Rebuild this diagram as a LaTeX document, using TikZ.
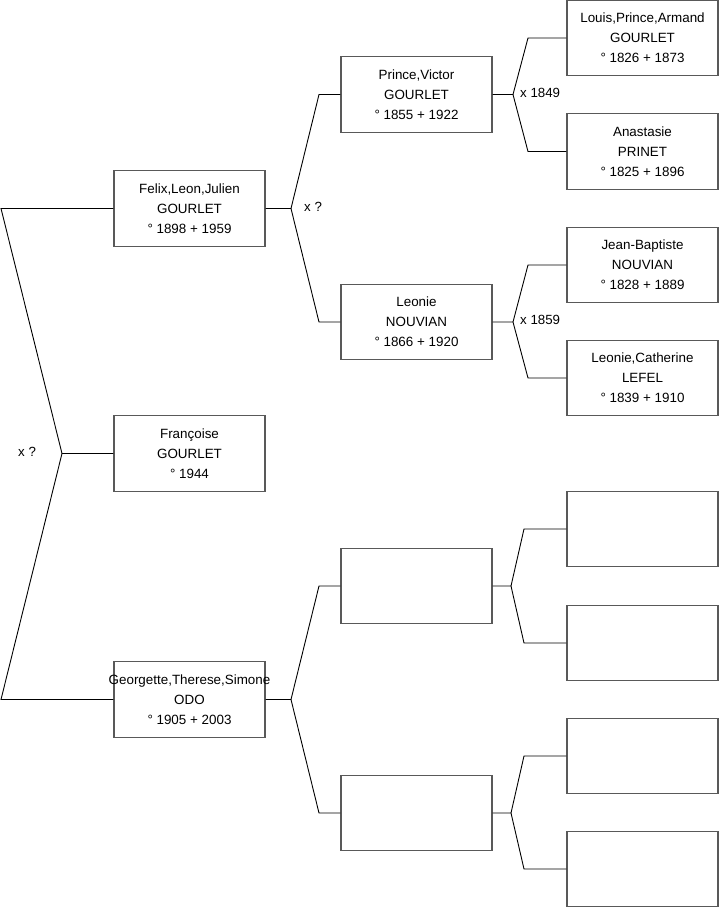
\documentclass[tikz,border=0pt]{standalone}
\usepackage{fontspec}
\setmainfont{Liberation Sans}
\begin{document}
\begin{tikzpicture}[x=1pt,y=-1pt,
  person/.style={draw=black!65, line width=1.2pt, fill=white, minimum width=151pt, minimum height=75.5pt, inner sep=0pt, align=center, font=\fontsize{13.4}{20}\selectfont},
  link/.style={draw=black, line width=0.9pt},
  mlabel/.style={anchor=west, inner sep=0pt, font=\fontsize{13.3}{16}\selectfont}]
\useasboundingbox (0,0) rectangle (719,908);
% generation 1
\node[person] (felix) at (189.5,208.5) {Felix,Leon,Julien\\GOURLET\\° 1898 + 1959};
\node[person] (francoise) at (189.5,453.5) {Françoise\\GOURLET\\° 1944};
\node[person] (georgette) at (189.5,699.5) {\makebox[0pt][c]{Georgette,Therese,Simone}\\ODO\\° 1905 + 2003};
% generation 2
\node[person] (victor) at (416.5,94.5) {Prince,Victor\\GOURLET\\° 1855 + 1922};
\node[person] (leonie) at (416.5,322) {Leonie\\NOUVIAN\\° 1866 + 1920};
\node[person] (emptyA) at (416.5,586) {};
\node[person] (emptyB) at (416.5,813) {};
% generation 3
\node[person] (louis) at (642.5,38) {Louis,Prince,Armand\\GOURLET\\° 1826 + 1873};
\node[person] (anastasie) at (642.5,151.5) {Anastasie\\PRINET\\° 1825 + 1896};
\node[person] (jeanbaptiste) at (642.5,265) {Jean-Baptiste\\NOUVIAN\\° 1828 + 1889};
\node[person] (leoniecath) at (642.5,378) {Leonie,Catherine\\LEFEL\\° 1839 + 1910};
\node[person] (emptyC) at (642.5,529) {};
\node[person] (emptyD) at (642.5,643) {};
\node[person] (emptyE) at (642.5,756) {};
\node[person] (emptyF) at (642.5,869) {};
% connector points
\coordinate (rA) at (1,208.5);
\coordinate (rApex) at (62,453.5);
\coordinate (rB) at (1,699.5);
\coordinate (fApex) at (291,208.5);
\coordinate (fA) at (319,94.5);
\coordinate (fB) at (319,322);
\coordinate (gApex) at (291,699.5);
\coordinate (gA) at (319,586);
\coordinate (gB) at (319,813);
\coordinate (vApex) at (513,94.5);
\coordinate (vA) at (528,38);
\coordinate (vB) at (528,151.5);
\coordinate (lApex) at (513,322);
\coordinate (lA) at (528,265);
\coordinate (lB) at (528,378);
\coordinate (eApex) at (511,586);
\coordinate (eA) at (524,529);
\coordinate (eB) at (524,643);
\coordinate (xApex) at (511,813);
\coordinate (xA) at (524,756);
\coordinate (xB) at (524,869);
% connectors
\draw[link] (felix.west) -- (rA) -- (rApex) -- (francoise.west);
\draw[link] (rApex) -- (rB) -- (georgette.west);
\draw[link] (felix.east) -- (fApex) -- (fA) -- (victor.west);
\draw[link] (fApex) -- (fB) -- (leonie.west);
\draw[link] (georgette.east) -- (gApex) -- (gA) -- (emptyA.west);
\draw[link] (gApex) -- (gB) -- (emptyB.west);
\draw[link] (victor.east) -- (vApex) -- (vA) -- (louis.west);
\draw[link] (vApex) -- (vB) -- (anastasie.west);
\draw[link] (leonie.east) -- (lApex) -- (lA) -- (jeanbaptiste.west);
\draw[link] (lApex) -- (lB) -- (leoniecath.west);
\draw[link] (emptyA.east) -- (eApex) -- (eA) -- (emptyC.west);
\draw[link] (eApex) -- (eB) -- (emptyD.west);
\draw[link] (emptyB.east) -- (xApex) -- (xA) -- (emptyE.west);
\draw[link] (xApex) -- (xB) -- (emptyF.west);
% marriage labels
\node[mlabel] (m1) at (18,451.5) {x ?};
\node[mlabel] (m2) at (304,207) {x ?};
\node[mlabel] (m3) at (520,92.5) {x 1849};
\node[mlabel] (m4) at (520,320) {x 1859};
\end{tikzpicture}
\end{document}
